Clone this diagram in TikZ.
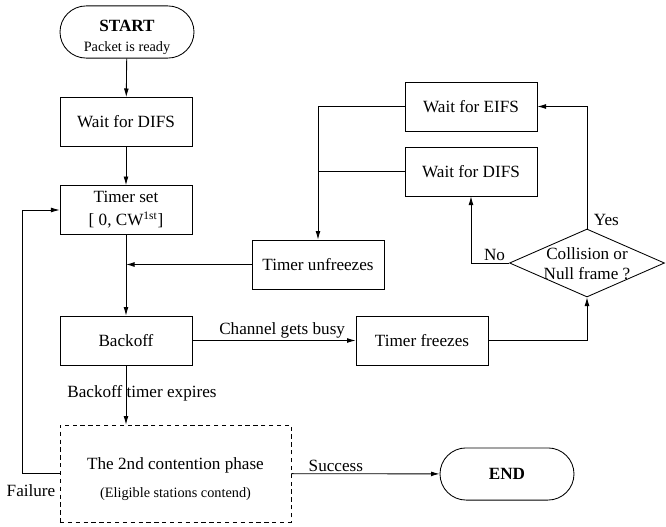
\documentclass[tikz,border=0pt]{standalone}
\usepackage{fontspec}
\setmainfont{Liberation Serif}
\usetikzlibrary{shapes.geometric,shapes.misc,arrows.meta}
\begin{document}
\begin{tikzpicture}[x=0.7pt,y=-0.7pt,
  font=\fontsize{12}{14}\selectfont,
  line width=0.6pt,
  box/.style={draw, rectangle, minimum width=92.4pt, minimum height=34.3pt,
    inner sep=0pt, align=center},
  term/.style={draw, rounded rectangle, minimum width=93.8pt, minimum height=36.5pt,
    inner sep=0pt, align=center},
  phase/.style={draw, dashed, dash pattern=on 3pt off 2.5pt, rectangle,
    minimum width=161.7pt, minimum height=67.9pt, inner sep=0pt, align=center},
  decide/.style={draw, diamond, minimum width=108.5pt, minimum height=47.6pt,
    inner sep=0pt},
  arr/.style={-{Latex[length=6pt,width=3.4pt]}},
  lbl/.style={inner sep=1.5pt}
]
\useasboundingbox (0,0) rectangle (666,527);

% main column
\node[term] (start) at (127,32)
  {\rule{0pt}{15pt}\textbf{START}\\[0pt]{\fontsize{10}{12}\selectfont Packet is ready}};
\node[box] (wait1) at (126,122) {Wait for DIFS};
\node[box] (tset) at (126,210) {Timer set\\[2pt][ 0, CW\textsuperscript{1st}]};
\node[box] (backoff) at (126,340.5) {Backoff};
\node[phase] (cont) at (175.5,473.5)
  {\rule{0pt}{16pt}The 2nd contention phase\\[6pt]{\fontsize{10}{12}\selectfont (Eligible stations contend)}};
\node[term] (endn) at (507,474) {\textbf{END}};

% right-hand part
\node[box] (unfreeze) at (318,264.5) {Timer unfreezes};
\node[box] (freeze) at (422,340.5) {Timer freezes};
\node[box] (eifs) at (471,106.5) {Wait for EIFS};
\node[box] (difs2) at (471,171.5) {Wait for DIFS};
\node[decide] (dec) at (587,263) {};
\node[align=center, inner sep=0pt] (dectext) at (587,264) {Collision or\\Null frame ?};

% connectors of the main column
\draw[arr] (start) -- (wait1);
\draw[arr] (wait1) -- (tset);
\draw[arr] (tset) -- (backoff);
\draw[arr] (unfreeze.west) -- (unfreeze.west -| tset.south);
\draw[arr] (backoff) -- (backoff.south |- cont.north);
\node[lbl] (expire) at (142,393) {Backoff timer expires};
\draw[arr] (backoff) -- node[above, lbl, pos=0.55] (busy) {Channel gets busy} (freeze);
\draw[arr] (cont) -- node[above, lbl, pos=0.3] (succ) {Success} (endn);

% failure loop back to the timer
\coordinate (fail) at (22,473.5);
\draw[arr] (cont.west) -- (fail) |- (tset.west);
\node[lbl] (faillbl) at (31,491) {Failure};

% waiting boxes feed the unfreeze step
\coordinate (j1) at (eifs.west -| unfreeze.north);
\coordinate (j2) at (difs2.west -| unfreeze.north);
\draw (eifs.west) -- (j1);
\draw (difs2.west) -- (j2);
\draw[arr] (j1) -- (unfreeze.north);

% decision
\draw[arr] (freeze.east) -| (dec.south);
\draw[arr] (dec.north) |- (eifs.east);
\draw[arr] (dec.west) -| (difs2.south);
\node[lbl, anchor=south west] (yes) at ([xshift=3pt]dec.north) {Yes};
\node[lbl, anchor=south east] (no) at ([xshift=-1pt]dec.west) {No};
\end{tikzpicture}
\end{document}
